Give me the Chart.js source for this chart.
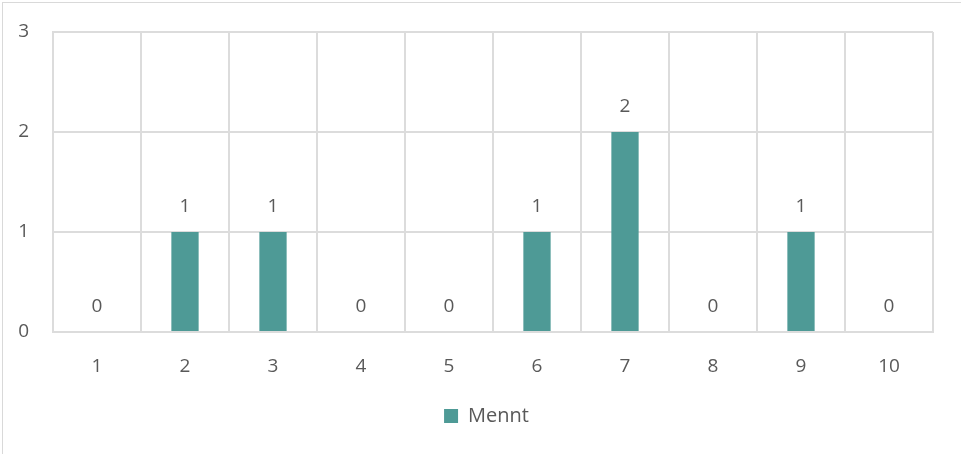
<!DOCTYPE html>
<html>
<head>
<meta charset="utf-8">
<script src="https://cdn.jsdelivr.net/npm/chart.js@4/dist/chart.umd.min.js"></script>
<style>
  body { margin: 0; background: #fff; overflow: hidden; }
  #frame { position: absolute; left: 2px; top: 2px; width: 990px; height: 490px; border: 1px solid #d9d9d9; }
  #wrap { position: absolute; left: 0; top: 0; width: 961px; height: 454px; }
</style>
</head>
<body>
<div id="frame"></div>
<div id="wrap"><canvas id="chart"></canvas></div>
<script>
var categories = ['1', '2', '3', '4', '5', '6', '7', '8', '9', '10'];
var mennt = [0, 1, 1, 0, 0, 1, 2, 0, 1, 0];
var yTicks = [0, 1, 2, 3];

var textColor = '#595959';
var gridColor = '#dcdcdc';
var barColor = '#4e9a96';
var fontFamily = "'Open Sans', sans-serif";

// value labels above each bar
var valueLabels = {
	id: 'valueLabels',
	afterLayout: function(chart){
		// legend sits a bit right of centre in the original
		chart.legend.left += 20;
		chart.legend.right += 20;
	},
	afterDatasetsDraw: function(chart){
		var ctx = chart.ctx;
		var meta = chart.getDatasetMeta(0);
		ctx.save();
		ctx.fillStyle = textColor;
		ctx.font = '19px ' + fontFamily;
		ctx.textAlign = 'center';
		ctx.textBaseline = 'middle';
		meta.data.forEach(function(bar, i){
			ctx.fillText(String(mennt[i]), bar.x, bar.y - 25);
		});
		ctx.restore();
	}
};

var chartdata = {
	labels: categories,
	datasets: [
		{
			label: 'Mennt',
			backgroundColor: barColor,
			borderWidth: 0,
			categoryPercentage: 1,
			barPercentage: 0.31,
			data: mennt
		}
	]
};

new Chart(document.getElementById('chart'), {
	type: 'bar',
	data: chartdata,
	plugins: [valueLabels],
	options: {
		responsive: true,
		maintainAspectRatio: false,
		animation: false,
		layout: { padding: { left: 0, right: 28, top: 32, bottom: 18 } },
		plugins: {
			tooltip: { enabled: false },
			legend: {
				position: 'bottom',
				labels: {
					boxWidth: 14,
					boxHeight: 14,
					padding: 10,
					color: textColor,
					font: { family: fontFamily, size: 20 }
				}
			}
		},
		scales: {
			x: {
				grid: { color: gridColor, lineWidth: 2, drawTicks: false, offset: true },
				border: { color: gridColor, width: 2 },
				ticks: { color: textColor, padding: 23, font: { family: fontFamily, size: 19 } },
				afterFit: function(scale){ scale.height = 64; }
			},
			y: {
				min: 0,
				max: 3,
				afterBuildTicks: function(scale){
					scale.ticks = yTicks.map(function(v){ return { value: v }; });
				},
				grid: { color: gridColor, lineWidth: 2, drawTicks: false },
				border: { color: gridColor, width: 2 },
				ticks: { color: textColor, padding: 24, font: { family: fontFamily, size: 19 } },
				afterFit: function(scale){
					scale.width = 53;
					scale.paddingTop = 0;
					scale.paddingBottom = 0;
				}
			}
		}
	}
});
</script>
</body>
</html>
